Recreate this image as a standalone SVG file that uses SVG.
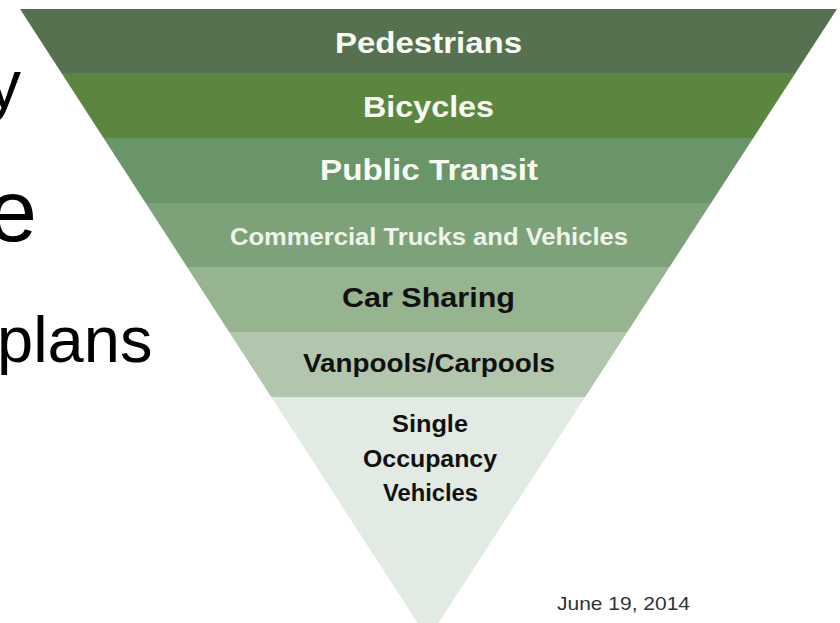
<svg xmlns="http://www.w3.org/2000/svg" width="840" height="623" viewBox="0 0 840 623">
  <style>
    .lbl { font-family: "Liberation Sans", Arial, sans-serif; font-weight: bold; text-anchor: middle; }
    .w { fill: #F8FBF4; }
    .k { fill: #111111; }
    .big { font-family: "Liberation Sans", Arial, sans-serif; fill: #000000; }
  </style>
  <defs>
    <clipPath id="tri">
      <polygon points="20,9 837,9 428,639"/>
    </clipPath>
  </defs>
  <rect width="840" height="623" fill="#FFFFFF"/>
  <g id="slide-text">
    <text class="big" x="-13" y="108" font-size="68">y</text>
    <text class="big" x="-12" y="241" font-size="88">e</text>
    <text class="big" x="-3" y="362" font-size="65">plans</text>
  </g>
  <g id="pyramid" clip-path="url(#tri)">
    <g id="pedestrians">
      <rect x="0" y="0" width="840" height="73" fill="#56714F"/>
    </g>
    <g id="bicycles">
      <rect x="0" y="73" width="840" height="65" fill="#5C8640"/>
    </g>
    <g id="public-transit">
      <rect x="0" y="138" width="840" height="65" fill="#6A9568"/>
    </g>
    <g id="commercial">
      <rect x="0" y="203" width="840" height="64" fill="#7DA279"/>
    </g>
    <g id="car-sharing">
      <rect x="0" y="267" width="840" height="65" fill="#95B48F"/>
    </g>
    <g id="vanpools">
      <rect x="0" y="332" width="840" height="65" fill="#B2C6AD"/>
    </g>
    <g id="single-occupancy">
      <rect x="0" y="397" width="840" height="260" fill="#E2EBE3"/>
    </g>
  </g>
  <g id="labels">
    <text class="lbl w" x="428.5" y="53" font-size="29" textLength="187" lengthAdjust="spacingAndGlyphs">Pedestrians</text>
    <text class="lbl w" x="428.5" y="117" font-size="29" textLength="131" lengthAdjust="spacingAndGlyphs">Bicycles</text>
    <text class="lbl w" x="429" y="180" font-size="29" textLength="218" lengthAdjust="spacingAndGlyphs">Public Transit</text>
    <text class="lbl" fill="#EEF5EA" x="429" y="245" font-size="23" textLength="398" lengthAdjust="spacingAndGlyphs">Commercial Trucks and Vehicles</text>
    <text class="lbl k" x="428.5" y="307" font-size="27" textLength="173" lengthAdjust="spacingAndGlyphs">Car Sharing</text>
    <text class="lbl k" x="429" y="372" font-size="25" textLength="252" lengthAdjust="spacingAndGlyphs">Vanpools/Carpools</text>
    <text class="lbl k" x="430" y="432" font-size="23" textLength="76" lengthAdjust="spacingAndGlyphs">Single</text>
    <text class="lbl k" x="430" y="467" font-size="23" textLength="134" lengthAdjust="spacingAndGlyphs">Occupancy</text>
    <text class="lbl k" x="430.5" y="501" font-size="23" textLength="95" lengthAdjust="spacingAndGlyphs">Vehicles</text>
  </g>
  <g id="footer">
    <text x="557" y="610" font-family="Liberation Sans, Arial, sans-serif" font-size="19" fill="#333333" textLength="133" lengthAdjust="spacingAndGlyphs">June 19, 2014</text>
  </g>
</svg>
